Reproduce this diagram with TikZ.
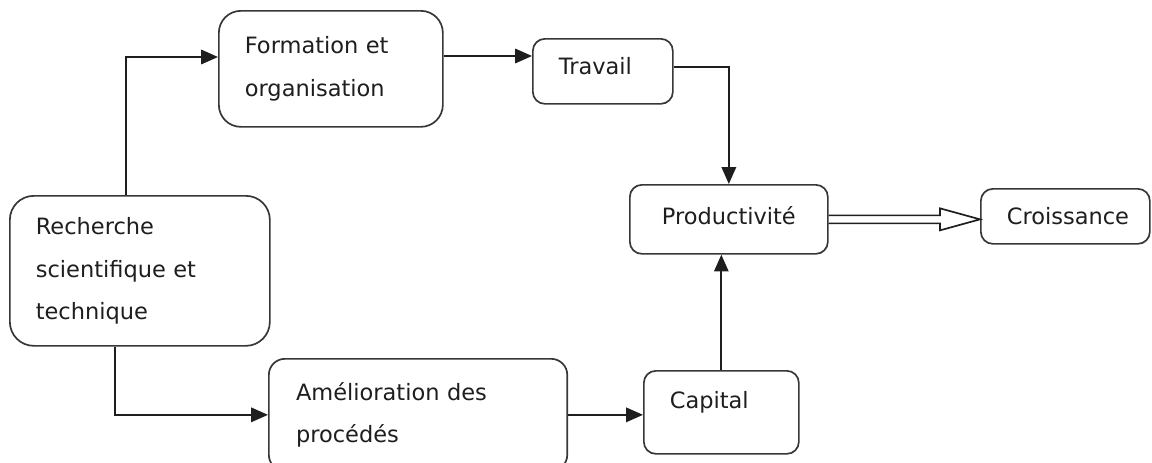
\documentclass[tikz,border=0pt]{standalone}
\usepackage{fontspec}
\setmainfont{DejaVu Sans}
\usepackage{tikz}
\usetikzlibrary{arrows.meta, calc}
\definecolor{mydark}{RGB}{30,30,30}
\definecolor{myline}{RGB}{55,55,55}
\tikzset{
  box/.style={rectangle, draw=myline, fill=white, align=left,
    inner xsep=0.65cm, inner ysep=0pt, anchor=north west,
    font=\fontsize{16}{30}\selectfont, text=mydark,
    rounded corners=0.3cm, line width=1.2pt},
  arrow/.style={-{Triangle[length=0.42cm, width=0.36cm]}, line width=1.3pt, color=mydark},
  outline/.style={line width=1.2pt, color=mydark, line join=miter}
}

\begin{document}
\begin{tikzpicture}
  \useasboundingbox (0,0) rectangle (28.8,-11.575);

  \node[box, text width=5.2cm, minimum height=3.75cm, rounded corners=0.6cm] (rech) at (0.225,-4.875) {Recherche\\scientifique et\\technique};
  \node[box, text width=4.3cm, minimum height=2.9cm, rounded corners=0.55cm] (form) at (5.45,-0.25) {Formation et\\organisation};
  \node[box, text width=2.2cm, minimum height=1.625cm, text depth=0.25cm] (trav) at (13.3,-0.95) {Travail};
  \node[box, text width=3.65cm, minimum height=1.725cm, align=center, text depth=0.2cm] (prod) at (15.725,-4.6) {Productivité};
  \node[box, text width=2.925cm, minimum height=1.375cm, align=center] (croi) at (24.5,-4.7) {Croissance};
  \node[box, text width=6.1cm, minimum height=2.8cm, rounded corners=0.4cm, inner xsep=0.68cm] (amel) at (6.7,-8.95) {Amélioration des\\procédés};
  \node[box, text width=2.575cm, minimum height=2.075cm, text depth=0.6cm] (capi) at (16.075,-9.25) {Capital};

  \draw[arrow] ([xshift=2.925cm]rech.north west) |- ([yshift=-1.175cm]form.north west);
  \draw[arrow] ([yshift=-1.15cm]form.north east) -- ([yshift=-0.45cm]trav.north west);
  \draw[arrow] ([yshift=0.1cm]trav.east) -| (prod.north);
  \draw[arrow] ([xshift=2.65cm]rech.south west) |- (amel.west);
  \draw[arrow] (amel.east) -- (amel.east -| capi.west);
  \draw[arrow] (capi.north) -- (capi.north |- prod.south);

  \coordinate (tip) at (prod.east -| croi.west);
  \draw[outline] ([yshift=0.1cm]prod.east) -- ($(tip)+(-1,0.1)$) -- ($(tip)+(-1,0.275)$) -- (tip)
    -- ($(tip)+(-1,-0.275)$) -- ($(tip)+(-1,-0.1)$) -- ([yshift=-0.1cm]prod.east);
\end{tikzpicture}
\end{document}
